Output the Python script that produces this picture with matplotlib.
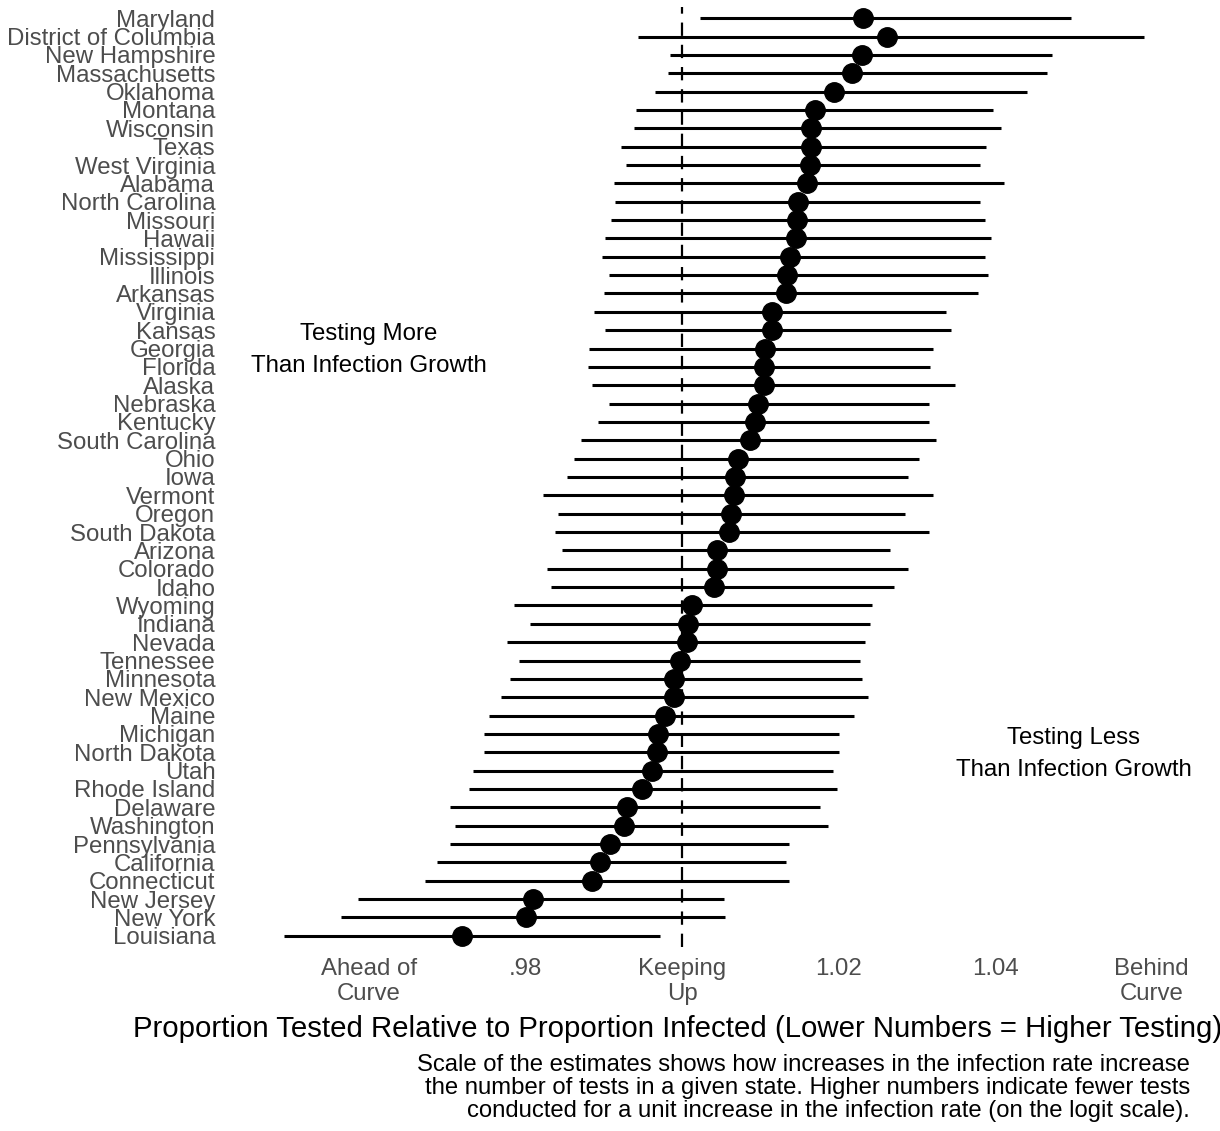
import numpy as np
import matplotlib.pyplot as plt

plt.rcParams['font.family'] = ['Liberation Sans', 'DejaVu Sans']

# states, top to bottom
states = [
    "Maryland", "District of Columbia", "New Hampshire", "Massachusetts", "Oklahoma",
    "Montana", "Wisconsin", "Texas", "West Virginia", "Alabama", "North Carolina",
    "Missouri", "Hawaii", "Mississippi", "Illinois", "Arkansas", "Virginia", "Kansas",
    "Georgia", "Florida", "Alaska", "Nebraska", "Kentucky", "South Carolina", "Ohio",
    "Iowa", "Vermont", "Oregon", "South Dakota", "Arizona", "Colorado", "Idaho",
    "Wyoming", "Indiana", "Nevada", "Tennessee", "Minnesota", "New Mexico", "Maine",
    "Michigan", "North Dakota", "Utah", "Rhode Island", "Delaware", "Washington",
    "Pennsylvania", "California", "Connecticut", "New Jersey", "New York", "Louisiana",
]

estimate = [
    1.0231, 1.0262, 1.0230, 1.0217, 1.0194, 1.0170, 1.0165, 1.0165, 1.0164, 1.0160,
    1.0148, 1.0147, 1.0146, 1.0138, 1.0134, 1.0133, 1.0115, 1.0115, 1.0106, 1.0104,
    1.0104, 1.0097, 1.0093, 1.0087, 1.0072, 1.0068, 1.0066, 1.0063, 1.0060, 1.0045,
    1.0045, 1.0041, 1.0012, 1.0008, 1.0006, 0.9997, 0.9990, 0.9989, 0.9978, 0.9969,
    0.9968, 0.9962, 0.9949, 0.9930, 0.9926, 0.9908, 0.9895, 0.9885, 0.9810, 0.9801,
    0.9719,
]

lower = [
    1.0023, 0.9944, 0.9985, 0.9982, 0.9965, 0.9941, 0.9939, 0.9922, 0.9928, 0.9913,
    0.9914, 0.9909, 0.9901, 0.9898, 0.9906, 0.9900, 0.9888, 0.9902, 0.9881, 0.9880,
    0.9885, 0.9906, 0.9893, 0.9871, 0.9862, 0.9853, 0.9822, 0.9842, 0.9837, 0.9846,
    0.9827, 0.9832, 0.9785, 0.9806, 0.9776, 0.9792, 0.9780, 0.9768, 0.9753, 0.9747,
    0.9747, 0.9733, 0.9728, 0.9703, 0.9710, 0.9703, 0.9687, 0.9671, 0.9586, 0.9564,
    0.9492,
]

upper = [
    1.0497, 1.0590, 1.0473, 1.0466, 1.0440, 1.0397, 1.0407, 1.0388, 1.0381, 1.0411,
    1.0381, 1.0387, 1.0395, 1.0387, 1.0391, 1.0378, 1.0337, 1.0343, 1.0320, 1.0317,
    1.0348, 1.0315, 1.0315, 1.0324, 1.0303, 1.0288, 1.0320, 1.0285, 1.0315, 1.0266,
    1.0288, 1.0271, 1.0242, 1.0240, 1.0234, 1.0227, 1.0230, 1.0238, 1.0219, 1.0201,
    1.0201, 1.0193, 1.0198, 1.0176, 1.0187, 1.0136, 1.0133, 1.0136, 1.0054, 1.0055,
    0.9972,
]

tick_values = [0.96, 0.98, 1.00, 1.02, 1.04, 1.06]
tick_labels = ["Ahead of\nCurve", ".98", "Keeping\nUp", "1.02", "1.04", "Behind\nCurve"]

caption = ("Scale of the estimates shows how increases in the infection rate increase\n"
           "the number of tests in a given state. Higher numbers indicate fewer tests\n"
           "conducted for a unit increase in the infection rate (on the logit scale).")

W, H = 1220, 1131
fig = plt.figure(figsize=(W / 100, H / 100), dpi=100)
left, right, top, bottom = 225, 1205, 7.2, 946.8
ax = fig.add_axes([left / W, 1 - bottom / H, (right - left) / W, (bottom - top) / H])

n = len(states)
y = np.arange(n)[::-1]

ax.axvline(1.0, color='black', linestyle=(0, (6, 4)), linewidth=1.6, zorder=1)
ax.hlines(y, lower, upper, color='black', linewidth=2.2, zorder=2)
ax.plot(estimate, y, 'o', color='black', markersize=14, zorder=3)

ax.set_xlim(0.9416, 1.0668)
ax.set_ylim(-0.6, n - 0.4)

ax.set_yticks(y)
ax.set_yticklabels(states, fontsize=17.3, color='#4d4d4d')
ax.set_xticks(tick_values)
ax.set_xticklabels(tick_labels, fontsize=17.3, color='#4d4d4d', linespacing=1.18)
ax.tick_params(length=0)
ax.tick_params(axis='y', pad=7)
ax.tick_params(axis='x', pad=8)
for s in ax.spines.values():
    s.set_visible(False)

ax.set_xlabel("Proportion Tested Relative to Proportion Infected (Lower Numbers = Higher Testing)",
              fontsize=21.2, labelpad=7, loc='left')
ax.xaxis.label.set_x(-0.094)

ax.text(0.96, 31.9, "Testing More\nThan Infection Growth", ha='center', va='center',
        fontsize=17.3, linespacing=1.6)
ax.text(1.05, 9.9, "Testing Less\nThan Infection Growth", ha='center', va='center',
        fontsize=17.3, linespacing=1.6)

fig.text(1190 / W, 1 - 1054 / H, caption, ha='right', va='top', fontsize=17.2,
         linespacing=1.07)

fig.savefig("out.png", dpi=100)
